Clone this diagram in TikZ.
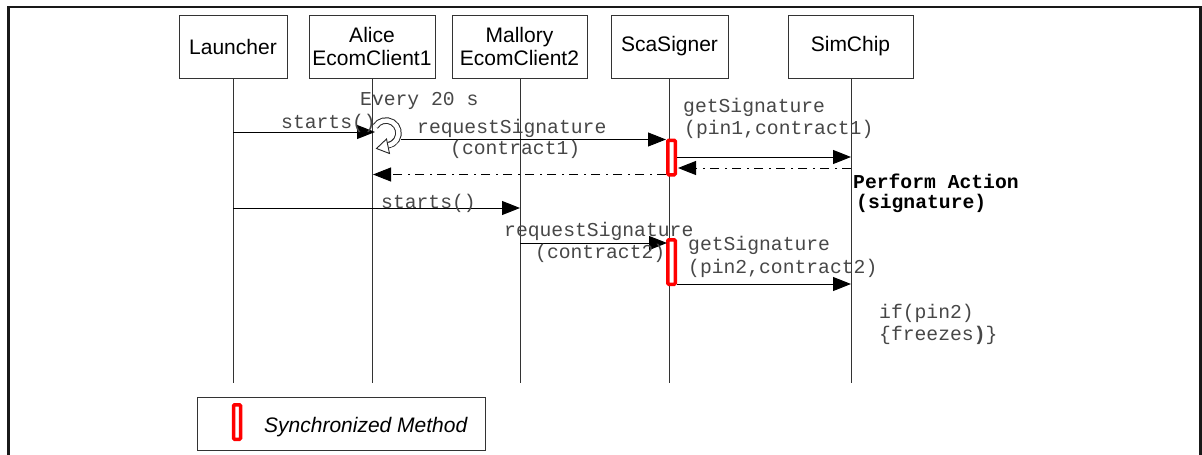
\documentclass[tikz,border=0pt]{standalone}
\usepackage{fontspec}
\setmainfont{Liberation Sans}
\setmonofont{Liberation Mono}
\usetikzlibrary{arrows.meta}
\begin{document}
\begin{tikzpicture}[x=1pt,y=-1pt,
  obj/.style={draw=black!80, line width=1pt, minimum height=63pt, inner sep=0pt, align=center, font=\fontsize{21}{23}\selectfont},
  life/.style={draw=black!80, line width=1pt},
  msg/.style={draw=black, line width=1pt, -{Triangle[length=18pt,width=14pt]}},
  ret/.style={msg, dash pattern=on 9pt off 5pt on 2pt off 6pt},
  lbl/.style={inner sep=0pt, anchor=west, font=\fontsize{19.7}{22}\selectfont\ttfamily, text=black!72},
  blbl/.style={lbl, font=\fontsize{19.7}{22}\selectfont\ttfamily\bfseries, text=black},
  act/.style={draw=red, line width=3.5pt, fill=white, minimum width=7.5pt, inner sep=0pt, rounded corners=1pt},
  frame/.style={draw=black!90, line width=2.7pt},
]
\useasboundingbox (0,0) rectangle (1202,455);
% frame
\draw[frame] (8.7,460) -- (8.7,7) -- (1200.7,7) -- (1200.7,460);

% objects
\node[obj, minimum width=108pt] (L) at (233,46.5) {Launcher};
\node[obj, minimum width=126pt] (A) at (372,46.5) {Alice\\EcomClient1};
\node[obj, minimum width=135pt] (M) at (519.5,46.5) {Mallory\\EcomClient2};
\node[obj, minimum width=117pt] (S) at (669.5,46.5) {ScaSigner};
\node[obj, minimum width=125pt] (C) at (850.5,46.5) {SimChip};

% lifeline ends
\coordinate (Le) at (233,383);
\coordinate (Ae) at (372,383);
\coordinate (Me) at (520,383);
\coordinate (Se) at (669,383);
\coordinate (Ce) at (851,383);
\draw[life] (L.south -| Le) -- (Le);
\draw[life] (A.south -| Ae) -- (Ae);
\draw[life] (M.south -| Me) -- (Me);
\draw[life] (S.south -| Se) -- (Se);
\draw[life] (C.south -| Ce) -- (Ce);

% activations
\node[act, minimum height=34.5pt] (act1) at (671.5,157.5) {};
\node[act, minimum height=44.5pt] (act2) at (671.5,262) {};

% message coordinates
\coordinate (m1a) at (233,132);
\coordinate (m1b) at (375,132);
\coordinate (m2a) at (401,139.5);
\coordinate (m2b) at (666,139.5);
\coordinate (m3a) at (851,157);
\coordinate (m3b) at (677,157);
\coordinate (m4a) at (851,168);
\coordinate (m4b) at (678,168);
\coordinate (m5a) at (666,174.5);
\coordinate (m5b) at (373,174.5);
\coordinate (m6a) at (233,208);
\coordinate (m6b) at (520,208);
\coordinate (m7a) at (520,243);
\coordinate (m7b) at (667,243);
\coordinate (m8a) at (677,284);
\coordinate (m8b) at (851,284);

\draw[msg] (m1a) -- (m1b);
\draw[msg] (m2a) -- (m2b);
\draw[msg] (m3b) -- (m3a);
\draw[ret] (m4a) -- (m4b);
\draw[ret] (m5a) -- (m5b);
\draw[msg] (m6a) -- (m6b);
\draw[msg] (m7a) -- (m7b);
\draw[msg] (m8a) -- (m8b);

% loop symbol
\draw[black!85, line width=6.5pt] (386,133) ++(212:12.5) arc[start angle=212, end angle=440, radius=12.5];
\draw[white, line width=4.5pt] (386,133) ++(211:12.5) arc[start angle=211, end angle=441, radius=12.5];
\draw[black!85, line width=0.9pt, fill=white] (389.5,153.5) -- (376.5,148.5) -- (386.5,139) -- cycle;

% labels
\node[lbl] (t0) at (360,101) {Every 20 s};
\node[lbl] (t1) at (281,123) {starts()};
\node[lbl] (t2) at (417,128) {requestSignature};
\node[lbl] (t3) at (450,149) {(contract1)};
\node[lbl] (t4) at (683,107) {getSignature};
\node[lbl] (t5) at (684,129) {(pin1,contract1)};
\node[blbl] (t6) at (853,181) {Perform Action};
\node[blbl] (t7) at (856,203) {(signature)};
\node[lbl] (t8) at (381,203) {starts()};
\node[lbl] (t9) at (504,231) {requestSignature};
\node[lbl] (t10) at (535,253) {(contract2)};
\node[lbl] (t11) at (688,245) {getSignature};
\node[lbl] (t12) at (688,268) {(pin2,contract2)};
\node[lbl] (t13) at (879,313) {if(pin2)};
\node[lbl] (t14) at (879,335) {\{freezes\textbf{)}\}};

% legend
\node[draw=black!80, line width=1pt, minimum width=288pt, minimum height=53pt, inner sep=0pt] (leg) at (341,423.5) {};
\node[draw=red, line width=3.5pt, fill=white, minimum width=7pt, minimum height=34.5pt, inner sep=0pt, rounded corners=1pt] (lact) at (237,422) {};
\node[inner sep=0pt, anchor=west, font=\fontsize{21}{23}\selectfont\itshape] (ltxt) at (264,427) {Synchronized Method};
\end{tikzpicture}
\end{document}
